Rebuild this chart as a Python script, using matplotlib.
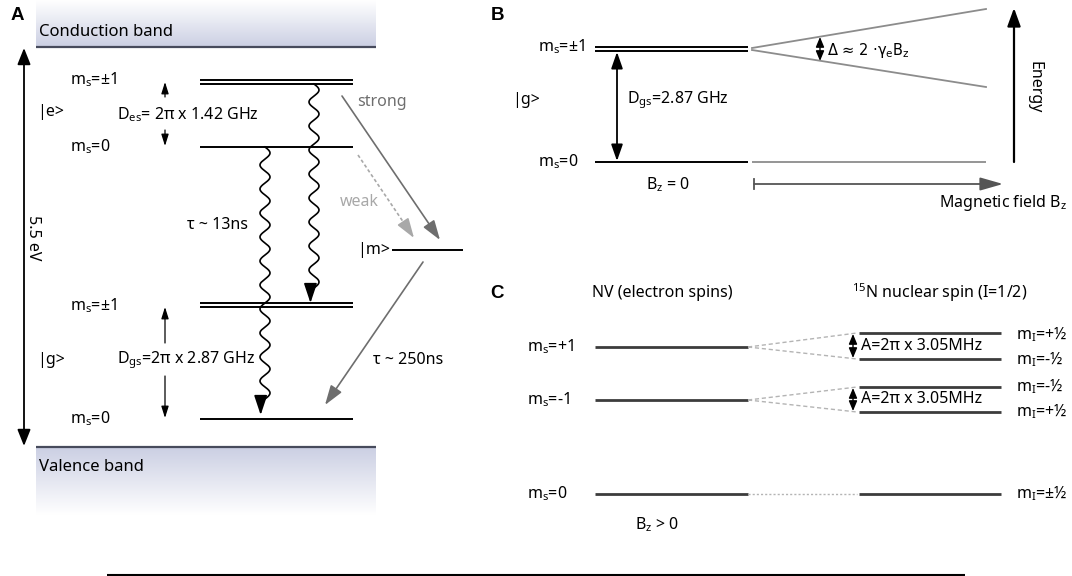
import numpy as np
import matplotlib.pyplot as plt
from matplotlib.patches import FancyArrowPatch
from matplotlib.colors import LinearSegmentedColormap

plt.rcParams['font.family'] = ['Noto Sans', 'DejaVu Sans']
plt.rcParams['mathtext.default'] = 'regular'

# ---------- level data (pixel rows of the drawing) ----------
# panel A: NV centre in the band gap
a_excited_pm1 = [80, 84]          # m_s = +-1 doublet, excited state
a_excited_0 = 147
a_ground_pm1 = [303, 307]         # m_s = +-1 doublet, ground state
a_ground_0 = 419
a_metastable = 250                # |m>
a_cb_edge = 47
a_vb_edge = 447
a_level_labels = ['m$_s$=±1', 'm$_s$=0', 'm$_s$=±1', 'm$_s$=0']
a_level_label_y = [80, 147, 306, 419]

# panel B: Zeeman splitting of the ground state
b_pm1 = [47, 51]
b_zero = 162
b_split_end = [9, 87]             # m_s=+1 / m_s=-1 at the largest field

# panel C: hyperfine splitting with 15N
c_ms_labels = ['m$_s$=+1', 'm$_s$=-1', 'm$_s$=0']
c_ms_y = [347, 400, 494]
c_hf_pairs = [(333, 359), (387, 412)]
c_mi_labels = ['m$_I$=+½', 'm$_I$=-½', 'm$_I$=-½', 'm$_I$=+½', 'm$_I$=±½']
c_mi_y = [335, 360, 387, 412, 494]
c_hf_text = 'A=2π x 3.05MHz'

fig = plt.figure(figsize=(10.72, 5.76), dpi=100)
ax = fig.add_axes([0, 0, 1, 1])

FS = 11.5
GRAY = '#6e6e6e'
LIGHT = '#a8a8a8'


def arrow(p0, p1, color='k', lw=1.0, hl=9, hw=3.5, style='-|>'):
    a = FancyArrowPatch(p0, p1, arrowstyle=f'{style},head_length={hl/10},head_width={hw/10}',
                        mutation_scale=10, color=color, lw=lw, shrinkA=0, shrinkB=0)
    ax.add_patch(a)


def hline(x0, x1, y, color='k', lw=1.5, ls='-'):
    ax.plot([x0, x1], [y, y], color=color, lw=lw, ls=ls, solid_capstyle='butt')


def wavy(x0, y0, y1, amp=5, period=24):
    yy = np.linspace(y0, y1 - 12, 400)
    xx = x0 + amp * np.sin(2 * np.pi * (yy - y0) / period)
    ax.plot(xx, yy, color='k', lw=1.2)
    arrow((xx[-1], yy[-1] - 1), (xx[-1], y1), hl=12, hw=4, lw=1.2)


def txt(x, y, s, ha='left', **kw):
    kw.setdefault('fontsize', FS)
    ax.text(x, y, s, ha=ha, va='center', **kw)


def panel_letter(x, y, s):
    ax.text(x, y, s, ha='center', va='center', fontsize=13.5,
            fontweight='bold', family='Liberation Sans')


# ---------- A ----------
band = LinearSegmentedColormap.from_list('band', ['#ffffff', '#cbcfe3'])
grad = np.linspace(0, 1, 200)[:, None]
ax.imshow(grad, cmap=band, extent=[36, 376, a_cb_edge, 0], aspect='auto', origin='upper', zorder=0)
ax.imshow(grad[::-1], cmap=band, extent=[36, 376, 515, a_vb_edge], aspect='auto', origin='upper', zorder=0)
hline(36, 376, a_cb_edge, color='#474b5c', lw=1.6)
hline(36, 376, a_vb_edge, color='#474b5c', lw=1.6)
txt(39, 32, 'Conduction band', fontsize=12)
txt(39, 467, 'Valence band', fontsize=12)
panel_letter(17, 16, 'A')

arrow((24, 48), (24, 446), lw=1.3, hl=10, hw=4, style='<|-|>')
ax.text(33, 238, '5.5 eV', rotation=-90, ha='center', va='center', fontsize=FS)

for y in a_excited_pm1 + a_ground_pm1:
    hline(200, 353, y, lw=1.4)
hline(200, 353, a_excited_0, lw=1.4)
hline(200, 353, a_ground_0, lw=1.4)
for s, y in zip(a_level_labels, a_level_label_y):
    txt(70, y, s)
txt(37, 112, '|e>')
txt(37, 360, '|g>')

# zero-field splitting arrows
arrow((165, 97), (165, 82), lw=0.9, hl=7, hw=2.2)
arrow((165, 130), (165, 146), lw=0.9, hl=7, hw=2.2)
txt(117, 115, 'D$_{es}$= 2π x 1.42 GHz')
arrow((165, 343), (165, 307), lw=0.9, hl=7, hw=2.2)
arrow((165, 376), (165, 418), lw=0.9, hl=7, hw=2.2)
txt(117, 360, 'D$_{gs}$=2π x 2.87 GHz')

# radiative decay
wavy(265, a_excited_0, a_ground_0 - 4)
wavy(314, a_excited_pm1[1], a_ground_pm1[0])
txt(187, 225, 'τ ~ 13ns')

# intersystem crossing
hline(392, 463, a_metastable, lw=1.4)
txt(357, a_metastable, '|m>')
arrow((342, 96), (440, 240), color=GRAY, lw=1.2, hl=12, hw=4)
txt(357, 102, 'strong', color=GRAY)
ax.plot([358, 408], [155, 229], color=LIGHT, lw=1.2, ls=(0, (2, 1.5)))
arrow((406, 226), (414, 238), color=LIGHT, lw=1.2, hl=12, hw=4)
txt(340, 202, 'weak', color=LIGHT)
arrow((423, 262), (325, 405), color=GRAY, lw=1.2, hl=12, hw=4)
txt(373, 360, 'τ ~ 250ns')

# ---------- B ----------
panel_letter(497, 16, 'B')
for y in b_pm1:
    hline(595, 748, y, lw=1.4)
hline(595, 748, b_zero, lw=1.4)
txt(538, 47, 'm$_s$=±1')
txt(538, 162, 'm$_s$=0')
txt(512, 100, '|g>')
arrow((617, 52), (617, 161), lw=1.3, hl=10, hw=3.5, style='<|-|>')
txt(627, 100, 'D$_{gs}$=2.87 GHz')

BG = '#8c8c8c'
ax.plot([752, 986], [b_pm1[0] + 1, b_split_end[0]], color=BG, lw=1.3)
ax.plot([752, 986], [b_pm1[1] - 1, b_split_end[1]], color=BG, lw=1.3)
hline(752, 986, b_zero, color=BG, lw=1.3)
arrow((820, 37), (820, 61), lw=1.0, hl=6, hw=2.5, style='<|-|>')
txt(827, 50, 'Δ ≈ 2 ·γ$_e$B$_z$', family='DejaVu Sans', fontsize=10.5)

arrow((1014, 162), (1014, 8), lw=1.6, hl=11, hw=4)
ax.text(1035, 87, 'Energy', rotation=-90, ha='center', va='center', fontsize=FS)
txt(646, 185, 'B$_z$ = 0')
ax.plot([754, 754], [179, 189], color='#555555', lw=1.3)
arrow((754, 184), (1003, 184), color='#555555', lw=1.3, hl=14, hw=4)
txt(1067, 203, 'Magnetic field B$_z$', ha='right')

# ---------- C ----------
panel_letter(497, 294, 'C')
txt(662, 293, 'NV (electron spins)', ha='center')
txt(852, 293, '$^{15}$N nuclear spin (I=1/2)')
CL = '#3c3c3c'
for s, y in zip(c_ms_labels, c_ms_y):
    hline(595, 748, y, color=CL, lw=2.0)
    txt(527, y, s)
for (ya, yb), y in zip(c_hf_pairs, c_ms_y[:2]):
    hline(859, 1001, ya, color=CL, lw=2.0)
    hline(859, 1001, yb, color=CL, lw=2.0)
    ax.plot([748, 857], [y, ya], color='#b4b4b4', lw=1.0, ls=(0, (3, 2)))
    ax.plot([748, 857], [y, yb], color='#b4b4b4', lw=1.0, ls=(0, (3, 2)))
    arrow((853, ya + 1), (853, yb - 1), lw=1.0, hl=6, hw=2.5, style='<|-|>')
    txt(861, y - 1, c_hf_text)
hline(748, 857, c_ms_y[2], color='#b4b4b4', lw=1.0, ls=(0, (1.5, 1.5)))
hline(859, 1001, c_ms_y[2], color=CL, lw=2.0)
for s, y in zip(c_mi_labels, c_mi_y):
    txt(1016, y, s)
txt(635, 525, 'B$_z$ > 0')

hline(107, 965, 575, lw=1.5)

ax.set_xlim(0, 1072)
ax.set_ylim(576, 0)
ax.axis('off')
fig.savefig('out.png', dpi=100)
